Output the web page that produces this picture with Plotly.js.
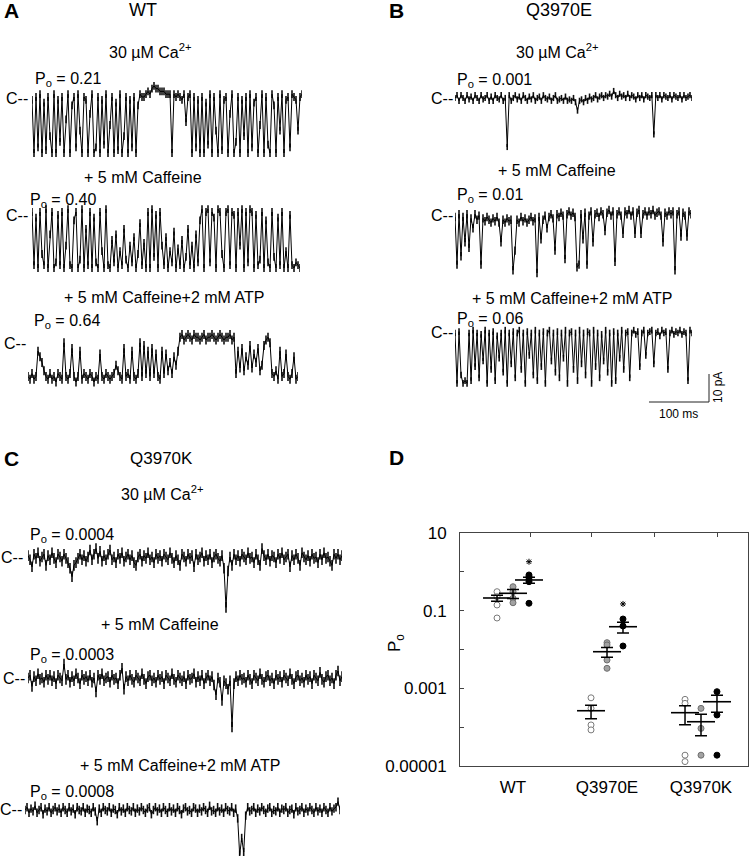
<!DOCTYPE html>
<html><head><meta charset="utf-8">
<script src="https://cdn.plot.ly/plotly-3.0.1.min.js"></script>
<style>html,body{margin:0;padding:0;background:#fff}#chart{width:750px;height:856px}</style>
</head><body><div id="chart"></div>
<script>
// ---------- single-channel recordings (pA, one value per sample) ----------
const sampleMs = 3.333;
const scaleBarMs = [100];          // horizontal calibration bar
const scaleBarPa = [10];           // vertical calibration bar
// half-width of the baseline noise band of each recording (pA)
const noiseBand = [1.4, 1.4, 1.6, 1.1, 1.5, 1.2, 1.9, 1.9, 1.5];

const wtCa = [-1,-20,0,-18,1,-20,-2,-19,0,-14,-20,1,-20,-1,-16,0,-20,-8,1,-20,-3,0,-18,1,
 -12,-20,0,-1,-20,-6,1,-20,-18,0,-20,-1,-17,1,-20,-10,0,-20,-2,-19,1,-20,-14,0,
 -20,-1,-18,0,-20,-3,1,0,
 0,1,2,1,3,4,3,3,2,2,2,1,1,1,-20,1,0,1,0,-1,1,-9,0,1,-20,0,-18,
 -1,-20,0,-20,-2,-17,1,-20,0,-12,-20,1,-19,-1,0,-20,-6,1,-20,-16,0,-20,-1,-14,0,-20,1,-18,-2,0,
 -20,-10,1,-20,0,-17,-20,1,-3,-20,0,-12,1,-20,-1,0,-18,1,
 0,-1,-12,0,1];
const wtCaf = [0,-19,-2,-20,0,-15,-19,1,-20,-8,0,-20,-18,-1,-19,0,-20,-12,1,-19,-20,-3,0,-20,-17,1,-20,-6,-19,0,-20,-2,-18,-20,0,-14,-20,1,-19,-20,
 -10,-18,-8,-20,-14,-19,-6,-17,-20,-12,-18,-9,-20,-15,-4,-19,-11,-20,
 0,-20,1,-16,-1,-20,0,
 -12,-19,-9,-20,-14,-18,-7,-20,-13,-19,-10,-20,-16,-6,-19,-12,-20,-8,-18,-3,
 1,-20,0,1,-18,0,-2,-20,1,0,-15,-20,0,1,-19,0,-1,-20,0,-12,1,-20,0,-18,1,0,
 -20,-1,-19,-17,0,-20,-3,-18,-20,0,-16,-20,-2,-19,0,-20,-14,-20,-1,
 -19,-20,-18,-19,-20];
const wtAtp = [-13,-14,-12,-14,-13,-4,-6,-8,-11,-13,-14,-12,-14,-13,-15,-12,-13,-14,-1,-13,-14,-12,-3,-13,-15,-13,-4,
 -14,-12,-13,-14,-12,-13,-15,-13,-14,-5,-13,-14,-12,-13,-14,-13,-12,-9,-11,-13,-14,-3,-13,-12,-14,-4,-13,-14,-12,
 -1,-13,-2,-12,-4,-13,-3,-12,-5,-13,-14,-4,-12,-5,-11,-8,-12,-6,-9,-4,
 1,2,0,1,2,1,0,2,1,1,0,1,2,0,1,1,2,1,0,1,2,1,0,1,1,2,0,1,
 -12,-4,-10,-3,-11,-6,-9,-2,-10,-5,-8,-3,-11,-9,
 -2,0,1,-1,
 -12,-13,-11,-14,-4,-13,-12,-5,-13,-14,-12,-6,-14,-13];

const eCa = [0,1,-1,1,0,-1,1,-0.5,0.5,-1,1,0,-1,1,-0.5,0,1,-1,0.5,-1,1,0,-0.5,1,-1,0,
 -17.5,
 1,-1,0,1,-0.5,0.5,-1,1,0,-1,0.5,-0.5,1,-1,0,0.5,-1,1,0,-0.5,0.5,-1,0,1,-1,-0.5,0,-1,0.5,-1,-0.5,-1,0,
 -1.5,-4.5,
 -1,-0.5,-1.5,0,-1,0.5,-0.5,0,1,-0.5,0.5,1,0,1,0.5,1.5,0.5,
 2.5,
 1,0,1.5,0.5,1,0,1.5,0,1,0.5,-0.5,1,0,1,-0.5,1,0.5,0,1,
 -13,
 1,0,1,-0.5,1,0.5,0,1,-0.5,1,0.5,0,1,-0.5,1,0,0.5,1,0];
const eCaf = [0,-17,1,-14,0,-9,1,-11,-0.5,-4,1,-1,0.5,-17,-0.5,-1.5,0,-1,-2,-0.5,
 -1.5,0,-2,-9,-1,-2,-0.5,-1.5,-1,-19,-12,-1,-2,0,-1.5,-0.5,-2,-1,0,-1.5,
 -0.5,-20,0,-8,-1,0.5,-4,0,1,-0.5,-12,1,0,1.5,0.5,-15,1,2,0.5,1.5,
 0,-18,-17,1,-8,1.5,-17,0.5,2,-9,1,1.5,0,2,1,-5,1.5,2.5,0.5,2,
 -16,1,2,0.5,-6,2,1,2.5,0.5,2,-6,1.5,2.5,-6,1,2,0.5,2,1,2.5,
 0.5,1.5,2,0.5,-9,1.5,0.5,2,1,2,-19,1,2,-7,1.5,0.5,-7,2,1];
const eAtp = [0,-18,0.5,-15,-18,-17,-18,0,-17,1,-12,0,-16,-0.5,-10,1,-18,0,-13,0.5,
 -17,-1,-9,0,-14,1,-18,0,-11,0.5,-16,0,1,-13,0,-18,0.5,-8,0,-15,
 1,-17,0,-12,0.5,-18,0,1,-10,0,-14,0.5,-16,0,-9,1,-18,0,0.5,-13,
 0,-17,1,-11,0,-15,0.5,0,-18,1,-12,0,-16,-0.5,-10,1,-14,0,-18,0.5,
 -17,0,-9,1,-13,0,0.5,-16,0,1,-0.5,0.5,-12,0,1,-8,0,0.5,1,-11,
 0,0.5,-1,1,0,0.5,-13,0,1,-0.5,0.5,0,1,-0.5,0.5,0,-17,1,0];

const kCa = [0.5,-1,-3.5,1,-0.5,1.5,-1.5,0,1,-3, 0.5,-1,1.5,-0.5,-2,1,0,-1.5,1,-0.5,
 -2,-4,-7,-3,-2,-0.5,1,-1,0.5,-1.5, 0,2.5,-1,1,3,-0.5,2,-1.5,0.5,-1,
 1,2.5,-1,0,-2,1,-0.5,1.5,-1.5,0, 1,-1,0.5,-2,-3,0,1,-1.5,0.5,-0.5,
 1.5,-1,0,-2,1,-0.5,0.5,-1.5,1,0, -1,1.5,-0.5,-2,0.5,-1,-3,1,0,-1.5,
 1,-0.5,0.5,-3.5,1,-1,0,1.5,-1.5,0.5, -1,1,-2,0,1,-0.5,-1.5,0.5,-4,-18,
 -5,0,-3,1,-1,0.5,-1.5,1,0,-1, 1.5,-0.5,0,-2,1,-1,-3,3,0.5,-1,
 1,-1.5,0.5,0,-2,1,-0.5,1.5,-1,0, 1,-3.5,0.5,-1,1,-0.5,-3,1.5,0,-1,
 0.5,-1.5,1,-0.5,0,-2,1,-1,1.5,-0.5, 0,-1.5,-3,1,-0.5,1,-1,0.5];
const kCaf = [0,1,-3,0.5,-1,1.5,-0.5,0,-1.5,1, -0.5,1,-1,0.5,-2,1,0,-1,5,-0.5,
 1,-1.5,0.5,-1,1.5,0,-2,1,-0.5,0.5, -1,1,-1.5,0,-5,1,-0.5,1.5,-1,0,
 0.5,-1.5,1,-0.5,0,-2,1,3.5,-4,0.5, -1,1,-0.5,-1.5,1,0,-1,1.5,-0.5,-2,
 0.5,1,-1,0,-1.5,1,-0.5,0.5,-2,1, 0,-1,1.5,-0.5,-1.5,1,0,-1,0.5,-2,
 1,-0.5,0,1.5,-1.5,0.5,-1,1,-2,0, 1,-1,0.5,-2.5,-6,0,-1.5,-8,-1,-2,
 -4,-1,-17.5,-2,0.5,-1,1,-0.5,0,-1.5, 1,-0.5,-2,1,0,-1,1.5,-0.5,-1.5,0.5,
 1,-1,0,-2,1,-0.5,0.5,-1.5,1,0, -1,1.5,-0.5,-2,0.5,1,-1,0,-1.5,1,
 -0.5,0.5,-2,1,0,-1,2,-0.5,-1.5,0.5, 1,-1,0,-2,1,2.5,-1,0.5];
const kAtp = [0,1,-1,0.5,-0.5,1.5,-1,0,1,-1.5, 0.5,-0.5,1,-1,0,1,-0.5,0.5,-1,1,
 0,-1,1,-0.5,0.5,-1.5,1,0,-0.5,1, -1,0.5,0,-1,1,-0.5,-4,0.5,-1,1,
 0,-0.5,1,-1,0.5,0,-1.5,1,-0.5,0.5, -1,1,0,-0.5,1,-1,0.5,-0.5,1,0,
 -1,0.5,1,-1.5,0,1,-0.5,0.5,-1,1, 0,-1,1,-0.5,0.5,-1,1,0,-1.5,0.5,
 1,-0.5,0,-1,1,0.5,-1,0.5,-0.5,1, 0,-1,1.5,-0.5,0,-1,1,-0.5,0.5,-1,
 1,0,-0.5,1,-1,0.5,-3,-16,-10,-15, -2,1,-0.5,0,1,-1,0.5,-0.5,1,0,
 -1,0.5,1,-1,0,-0.5,1,-1,0.5,0, 1,-1,0,0.5,-1.5,1,-0.5,0,1,-1,
 0.5,-0.5,1,0,-1,1,-0.5,0.5,-1,1, 0,-1,1,-0.5,0.5,1,3,0];

const conditionLabels = ['30 µM Ca<sup>2+</sup>', '+ 5 mM Caffeine', '+ 5 mM Caffeine+2 mM ATP'];
const panelTitles = ['WT', 'Q3970E', 'Q3970K'];
const poWT = ['0.21', '0.40', '0.64'];
const poE = ['0.001', '0.01', '0.06'];
const poK = ['0.0004', '0.0003', '0.0008'];

// ---------- panel D: open probability ----------
const groups = ['WT', 'Q3970E', 'Q3970K'];
const caWT = [0.308, 0.229, 0.140, 0.0647];
const caE = [5.7e-4, 3.05e-4, 1.14e-4, 8.5e-5];
const caK = [5.2e-4, 4.1e-4, 1.9e-5, 1.3e-5];
const cafWT = [0.414, 0.308, 0.208, 0.160];
const cafE = [0.0150, 0.0131, 0.00536, 0.00328];
const cafK = [3.05e-4, 9.3e-5, 1.9e-5];
const atpWT = [0.83, 0.75, 0.643, 0.557, 0.155];
const atpE = [0.061, 0.0403, 0.0123];
const atpK = [8.2e-4, 2.06e-4, 1.9e-5];
const meanCa = [0.212, 2.65e-4, 2.36e-4];
const semCa = [0.036, 1.0e-4, 1.2e-4];
const meanCaf = [0.28, 8.77e-3, 1.38e-4];
const semCaf = [0.073, 2.5e-3, 7.8e-5];
const meanAtp = [0.617, 0.0386, 4.52e-4];
const semAtp = [0.108, 0.012, 2.1e-4];
const sigGroup = [0, 1];
const sigY = [1.82, 0.149];

// ---------- layout helpers ----------
const W = 750, H = 856, PX_PA = 2.8;
const FONT = 'Arial, "Liberation Sans", sans-serif';
const fx = px => px / W, fy = px => 1 - px / H;
const traces = [];
const layout = {
  width: W, height: H, margin: {l:0, r:0, t:0, b:0},
  paper_bgcolor: '#fff', plot_bgcolor: 'rgba(0,0,0,0)', showlegend: false,
  font: {family: FONT, color: '#000'}, annotations: [], shapes: []
};

const recs = [
  {d: wtCa, x0: 32, x1: 302, base: 97},
  {d: wtCaf, x0: 32, x1: 300, base: 212},
  {d: wtAtp, x0: 28, x1: 298, base: 340},
  {d: eCa, x0: 455, x1: 692, base: 98},
  {d: eCaf, x0: 455, x1: 691, base: 217},
  {d: eAtp, x0: 455, x1: 692, base: 333},
  {d: kCa, x0: 28, x1: 342, base: 557},
  {d: kCaf, x0: 28, x1: 342, base: 678},
  {d: kAtp, x0: 25, x1: 340, base: 810}
];
recs.forEach((r, k) => {
  const n = k + 2;
  const top = Math.max(r.base - 35, 0), bot = Math.min(r.base + 75, H);
  layout['xaxis' + n] = {domain: [fx(r.x0), fx(r.x1)], range: [0, (r.d.length - 1) * sampleMs], visible: false, anchor: 'y' + n, fixedrange: true};
  layout['yaxis' + n] = {domain: [fy(bot), fy(top)], range: [-(bot - r.base) / PX_PA, (r.base - top) / PX_PA], visible: false, anchor: 'x' + n, fixedrange: true};
  traces.push({x: r.d.map((v, i) => i * sampleMs), y: r.d, xaxis: 'x' + n, yaxis: 'y' + n,
    mode: 'lines', line: {color: '#000', width: 1},
    error_y: {type: 'constant', value: noiseBand[k], width: 0, thickness: 1.6, color: '#111'},
    hoverinfo: 'skip'});
});

// calibration bar (own axes, same px/ms and px/pA as the traces)
layout.xaxis12 = {domain: [fx(600), fx(720)], range: [(600 - 709) * sampleMs / 2, (720 - 709) * sampleMs / 2], visible: false, anchor: 'y12', fixedrange: true};
layout.yaxis12 = {domain: [fy(410), fy(360)], range: [(402 - 410) / PX_PA, (402 - 360) / PX_PA], visible: false, anchor: 'x12', fixedrange: true};
traces.push({x: [-scaleBarMs[0], 0, 0], y: [0, 0, scaleBarPa[0]], xaxis: 'x12', yaxis: 'y12',
  mode: 'lines', line: {color: '#222', width: 1}, hoverinfo: 'skip'});

function ann(text, x, y, size, xanchor, extra) {
  layout.annotations.push(Object.assign({text: text, x: fx(x), y: fy(y), xref: 'paper', yref: 'paper',
    xanchor: xanchor || 'center', yanchor: 'middle', showarrow: false,
    font: {family: FONT, size: size, color: '#000'}}, extra || {}));
}
// panel letters + titles
ann('<b>A</b>', 2, 11, 21, 'left');
ann('<b>B</b>', 387, 11, 21, 'left');
ann('<b>C</b>', 2, 458, 21, 'left');
ann('<b>D</b>', 387, 457, 21, 'left');
ann(panelTitles[0], 143, 10, 18);
ann(panelTitles[1], 559, 10, 18);
ann(panelTitles[2], 161, 458, 17);

// trace labels
const labelPos = [
  {c: [150, 51], p: [33, 79], cl: [30, 98], po: poWT[0]},
  {c: [143, 178], p: [28, 200], cl: [30, 216], po: poWT[1]},
  {c: [164, 297], p: [32, 322], cl: [28, 343], po: poWT[2]},
  {c: [557, 51], p: [455, 81], cl: [455, 98], po: poE[0]},
  {c: [557, 170], p: [455, 195], cl: [455, 216], po: poE[1]},
  {c: [572, 298], p: [455, 319], cl: [455, 333], po: poE[2]},
  {c: [162, 493], p: [28, 535], cl: [25, 557], po: poK[0]},
  {c: [160, 624], p: [28, 655], cl: [27, 678], po: poK[1]},
  {c: [180, 765], p: [28, 792], cl: [24, 809], po: poK[2]}
];
labelPos.forEach((L, k) => {
  ann(conditionLabels[k % 3], L.c[0], L.c[1], 16);
  ann('P<sub>o</sub> = ' + L.po, L.p[0], L.p[1], 16, 'left');
  ann('C--', L.cl[0], L.cl[1], 16, 'right');
});
ann('100 ms', 678, 414, 12);
ann('10 pA', 718, 388, 12, 'center', {textangle: -90});
ann('P<sub>o</sub>', 396, 643, 17, 'center', {textangle: -90});

// ---------- panel D ----------
const offs = [-0.17, 0, 0.17];
const lineCol = '#444';
layout.xaxis = {domain: [fx(460), fx(748)], range: [-0.564, 2.5], tickvals: [0, 1, 2], ticktext: groups,
  ticks: '', showline: true, mirror: true, linecolor: lineCol, linewidth: 1, showgrid: false, zeroline: false,
  tickfont: {family: FONT, size: 17, color: '#000'}, ticklabelstandoff: 6, anchor: 'y', fixedrange: true};
layout.xaxis11 = {overlaying: 'x', side: 'top', anchor: 'y', range: [-0.564, 2.5], tickvals: [0.181, 0.84, 1.51, 2.18],
  ticks: 'inside', ticklen: 4, tickcolor: lineCol, showticklabels: false, showline: false, showgrid: false, zeroline: false, fixedrange: true};
layout.yaxis = {domain: [fy(766), fy(533)], type: 'log', range: [-5, 1],
  tickvals: [10, 1, 0.1, 0.01, 0.001, 0.0001, 0.00001], ticktext: ['10', '', '0.1', '', '0.001', '', '0.00001'],
  ticks: 'inside', ticklen: 4, tickcolor: lineCol, showline: true, mirror: true, linecolor: lineCol, linewidth: 1,
  showgrid: false, zeroline: false, tickfont: {family: FONT, size: 17, color: '#000'}, ticklabelstandoff: 9, anchor: 'x', fixedrange: true};
// invisible point so the top tick axis is drawn
traces.push({x: [0], y: [1], xaxis: 'x11', yaxis: 'y', mode: 'markers', marker: {opacity: 0}, hoverinfo: 'skip'});

const styles = [
  {color: '#fff', line: {color: '#7a7a7a', width: 1}},
  {color: '#a2a2a2', line: {color: '#6e6e6e', width: 1}},
  {color: '#000', line: {color: '#000', width: 1}}
];
const dotSets = [[caWT, caE, caK], [cafWT, cafE, cafK], [atpWT, atpE, atpK]];
const means = [meanCa, meanCaf, meanAtp];
const sems = [semCa, semCaf, semAtp];
dotSets.forEach((set, c) => {
  set.forEach((vals, g) => {
    traces.push({x: vals.map(() => g + offs[c]), y: vals, xaxis: 'x', yaxis: 'y', mode: 'markers',
      marker: Object.assign({symbol: 'circle', size: 6}, styles[c]), hoverinfo: 'skip'});
  });
  traces.push({x: groups.map((_, g) => g + offs[c]), y: means[c], xaxis: 'x', yaxis: 'y', mode: 'markers',
    marker: {symbol: 'line-ew', size: 20, color: '#000', line: {color: '#000', width: 1.6}},
    error_y: {type: 'data', array: sems[c], color: '#000', thickness: 1.5, width: 6}, hoverinfo: 'skip'});
});
traces.push({x: sigGroup.map(g => g + offs[2]), y: sigY, xaxis: 'x', yaxis: 'y', mode: 'markers',
  marker: {symbol: 'asterisk-open', size: 5, color: '#000', line: {color: '#000', width: 1}}, hoverinfo: 'skip'});

Plotly.newPlot('chart', traces, layout, {staticPlot: true, displayModeBar: false});
</script>
</body></html>
